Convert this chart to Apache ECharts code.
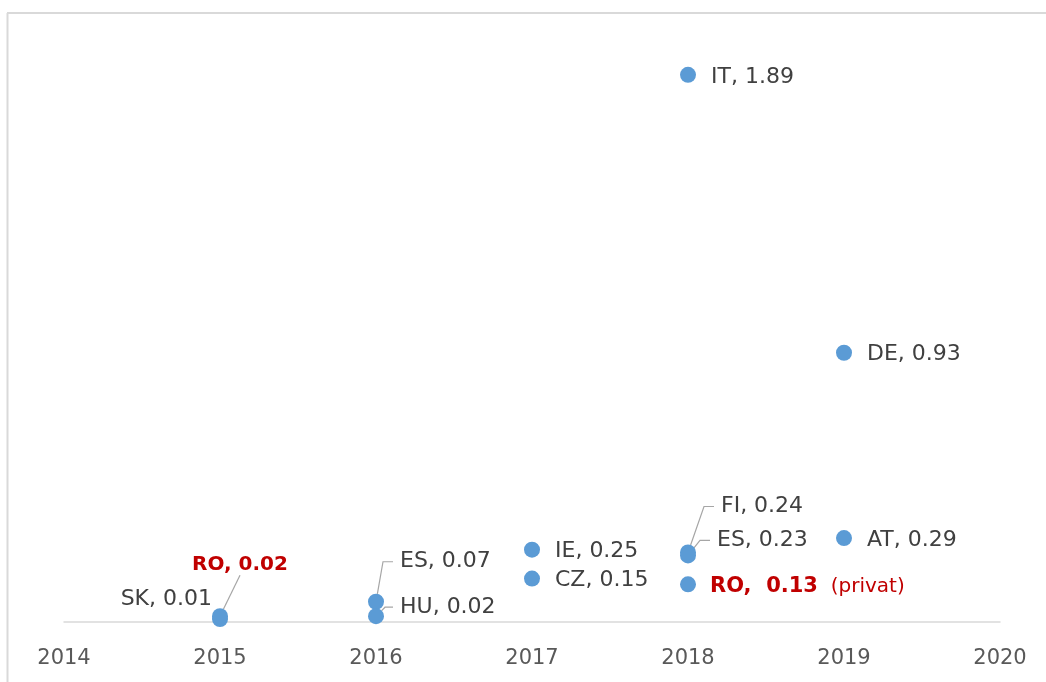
<!DOCTYPE html>
<html>
<head>
<meta charset="utf-8">
<script src="https://cdn.jsdelivr.net/npm/echarts@6/dist/echarts.min.js"></script>
<style>html,body{margin:0;padding:0;background:#fff}#c{width:1046px;height:682px}</style>
</head>
<body>
<div id="c"></div>
<script>
// ---- data ----
const years     = [2015, 2015, 2016, 2016, 2017, 2017, 2018, 2018, 2018, 2018, 2019, 2019];
const countries = ['SK', 'RO', 'ES', 'HU', 'IE', 'CZ', 'IT', 'FI', 'ES', 'RO', 'DE', 'AT'];
const values    = [0.01, 0.02, 0.07, 0.02, 0.25, 0.15, 1.89, 0.24, 0.23, 0.13, 0.93, 0.29];
const notes     = ['', '', '', '', '', '', '', '', '', '(privat)', '', ''];
const xTicks    = [2014, 2015, 2016, 2017, 2018, 2019, 2020];

// ---- label styling (positions/offsets only) ----
const RED = '#c00000';
const labelStyle = {
  0:  {position: 'left', dx: 15, dy: -20},
  1:  {position: 'top', dx: 20, dy: -18, red: 'b20', line: true, len2: 0},
  2:  {position: 'right', dx: -6, dy: -40, line: true, len2: 10, gap: true},
  3:  {position: 'right', dx: -6, dy: -9, line: true, len2: 8, gap: true},
  7:  {position: 'right', dx: 3, dy: -46, line: true, len2: 10, gap: true},
  8:  {position: 'right', dx: -1, dy: -15, line: true, len2: 10, gap: true},
  9:  {position: 'right', dx: -1, dy: 2, red: 'b'}
};

const items = years.map((y, i) => {
  const s = labelStyle[i] || {position: 'right', dx: 0, dy: 2};
  let fmt;
  if (s.red) {
    fmt = notes[i]
      ? '{' + s.red + '|' + countries[i] + ',  ' + values[i].toFixed(2) + '}{n|  ' + notes[i] + '}'
      : '{' + s.red + '|' + countries[i] + ', ' + values[i].toFixed(2) + '}';
  } else {
    fmt = (s.gap ? ' ' : '') + countries[i] + ', ' + values[i].toFixed(2);
  }
  return {
    value: [y, values[i]],
    name: countries[i],
    label: {
      show: true,
      position: s.position,
      distance: 15,
      formatter: fmt
    },
    labelLine: {show: !!s.line, length2: s.len2 || 0}
  };
});
const offs = years.map((y, i) => {
  const s = labelStyle[i] || {dx: 0, dy: 2};
  return [s.dx, s.dy];
});

const chart = echarts.init(document.getElementById('c'), null, {renderer: 'canvas'});
chart.setOption({
  backgroundColor: '#ffffff',
  animation: false,
  graphic: [
    {type: 'line', shape: {x1: 7.5, y1: 13, x2: 7.5, y2: 682}, style: {stroke: '#d9d9d9', lineWidth: 2}},
    {type: 'line', shape: {x1: 7, y1: 13, x2: 1046, y2: 13}, style: {stroke: '#d9d9d9', lineWidth: 2}}
  ],
  grid: {left: 64, right: 46, top: 43, bottom: 60},
  xAxis: {
    type: 'value', min: xTicks[0], max: xTicks[xTicks.length - 1], interval: 1,
    axisLine: {show: true, lineStyle: {color: '#d9d9d9', width: 1.5}},
    axisTick: {show: false},
    splitLine: {show: false},
    axisLabel: {
      margin: 26, color: '#595959', fontSize: 21, fontFamily: 'DejaVu Sans',
      formatter: v => String(v)
    }
  },
  yAxis: {
    type: 'value', min: 0, max: 2, show: false,
    splitLine: {show: false}
  },
  series: [{
    type: 'scatter',
    symbol: 'circle',
    symbolSize: 16,
    itemStyle: {color: '#5b9bd5', opacity: 1},
    label: {
      color: '#404040', fontSize: 22, fontFamily: 'DejaVu Sans',
      rich: {
        b: {color: RED, fontWeight: 'bold', fontSize: 21, fontFamily: 'DejaVu Sans'},
        b20: {color: RED, fontWeight: 'bold', fontSize: 20, fontFamily: 'DejaVu Sans'},
        n: {color: RED, fontSize: 20, fontFamily: 'DejaVu Sans'}
      }
    },
    labelLine: {lineStyle: {color: '#a6a6a6', width: 1.2}, smooth: false},
    labelLayout: function (p) { return {dx: offs[p.dataIndex][0], dy: offs[p.dataIndex][1]}; },
    data: items,
    z: 3
  }]
});
</script>
</body>
</html>
